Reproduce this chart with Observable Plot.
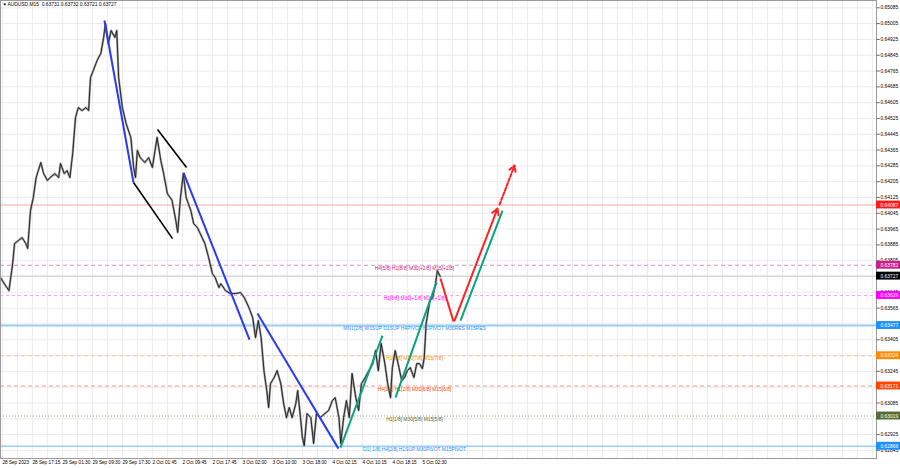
<!DOCTYPE html>
<html><head><meta charset="utf-8">
<script src="https://cdn.jsdelivr.net/npm/d3@7"></script>
<script src="https://cdn.jsdelivr.net/npm/@observablehq/plot@0.6"></script>
<style>html,body{margin:0;padding:0;background:#fff;} svg{display:block;}</style>
</head><body><div id="chart"></div>
<script>
// ---- data ----
const titleText = "AUDUSD,M15  0.63731 0.63732 0.63721 0.63727";
const bars = [0,4,9,13,15,19,23,27,29,32,
35,38,43,46,50,53,58,62,64,68,
71,74,77,80,83,87,91,94,96,99,
103,107,110,112,115,118,122,124,126,130,
134,139,142,144,146,149,154,158,162,167,
171,174,178,183,187,189,192,195,198,203,
206,210,213,218,222,226,229,233,235,240,
245,251,256,260,265,269,272,275,278,281,
284,286,288,292,295,299,302,305,308,311,
315,317,320,322,324,327,331,334,337,341,
346,350,354,357,361,363,366,369,372,375,
379,382,385,389,393,397,400,403,406,410,
413,416,418,421,425,428,431,434,437,441,
444,447,450,452,454,458,461,464,466,469];
const closes = [0.63720,0.63689,0.63654,0.63791,0.63892,0.63907,0.63922,0.63892,0.63867,0.64059,
0.64125,0.64226,0.64302,0.64246,0.64211,0.64226,0.64246,0.64226,0.64297,0.64246,
0.64261,0.64226,0.64348,0.64530,0.64580,0.64565,0.64580,0.64565,0.64732,0.64768,
0.64818,0.64854,0.64935,0.65006,0.64904,0.64970,0.64935,0.64970,0.64732,0.64580,
0.64499,0.64429,0.64277,0.64226,0.64363,0.64327,0.64302,0.64327,0.64277,0.64429,
0.64312,0.64246,0.64145,0.64110,0.64008,0.63948,0.64125,0.64246,0.64125,0.64059,
0.63993,0.63973,0.63943,0.63892,0.63821,0.63740,0.63720,0.63669,0.63689,0.63654,
0.63639,0.63639,0.63644,0.63619,0.63568,0.63517,0.63416,0.63502,0.63416,0.63249,
0.63148,0.63062,0.63183,0.63214,0.63249,0.63183,0.63082,0.63011,0.63062,0.63011,
0.63082,0.63148,0.63011,0.62910,0.62869,0.63031,0.63011,0.62880,0.63031,0.63011,
0.63031,0.63047,0.63097,0.63112,0.63011,0.62880,0.63011,0.63097,0.63011,0.63234,
0.63112,0.63047,0.63183,0.63214,0.63249,0.63284,0.63350,0.63249,0.63386,0.63284,
0.63183,0.63112,0.63264,0.63350,0.63264,0.63198,0.63214,0.63249,0.63264,0.63214,
0.63284,0.63284,0.63259,0.63315,0.63487,0.63603,0.63619,0.63689,0.63755,0.63725];

const axisPrices = [0.65085,0.65005,0.64925,0.64845,0.64765,0.64685,0.64605,0.64525,0.64445,0.64365,
0.64285,0.64205,0.64125,0.64045,0.63965,0.63885,0.63805,0.63725,0.63645,0.63565,
0.63485,0.63405,0.63325,0.63245,0.63165,0.63085,0.63005,0.62925,0.62845];
const dateLabels = ["28 Sep 2023","28 Sep 17:15","29 Sep 01:30","29 Sep 09:30","29 Sep 17:30",
"2 Oct 01:45","2 Oct 09:45","2 Oct 17:45","3 Oct 02:00","3 Oct 10:00","3 Oct 18:00",
"4 Oct 02:15","4 Oct 10:15","4 Oct 18:15","5 Oct 02:30"];
const dateBars = [2,34,66,98,130,162,194,226,258,290,322,354,386,418,450];
const gridBars = d3.range(2, 934, 16);

const levelPrices = [0.64087,0.63782,0.63727,0.63629,0.63477,0.63324,0.63171,0.63019,0.62866];
const levelTexts = ["","H4[5/8] H1[8/8] M30[+2/8] M15[+2/8]","","H1[6/8] M30[+1/8] M15[+1/8]",
"MN1[2/8] W1SUP D1SUP H4PIVOT H1PIVOT M30RES M15RES","H1[3/8] M30[7/8] M15[7/8]",
"H4[3/8] H1[2/8] M30[6/8] M15[6/8]","H1[1/8] M30[5/8] M15[5/8]","D1[-1/8] H4[2/8] H1SUP M30PIVOT M15PIVOT"];
const levelTextBar = 441.6;

// trend lines: [bar1, price1, bar2, price2]
const blueLines = [[110.9,0.65021,141.9,0.64201],[195.2,0.64251,265.6,0.63406],[274.1,0.63538,360.5,0.62854]];
const blackLines = [[167.5,0.64469,198.4,0.64277],[141.9,0.64201,183.5,0.63917]];
const greenLines = [[362.7,0.62859,407.5,0.63426],[421.3,0.63112,465.1,0.63695],[490.7,0.63502,535.5,0.64059]];
const redLines = [[469.3,0.63715,483.2,0.63497]];
const redArrows = [[484.3,0.63502,530.1,0.64069]];
const redDashedArrows = [[532.3,0.64089,548.3,0.64287]];

// ---- styles ----
const levelStyles = [
  {line:"#f5a8a0", dash:null, w:1, box:"#ff1a1a", txt:"#ff1a1a"},
  {line:"#e78cc0", dash:"4,3", w:1, box:"#c8208a", txt:"#c8208a"},
  {line:"#c9c9c9", dash:null, w:1, box:"#000000", txt:"#000"},
  {line:"#f7a0f7", dash:"3,3", w:1, box:"#ff00ff", txt:"#ff00ff"},
  {line:"#9ccdf6", dash:null, w:2, box:"#1e90ff", txt:"#1e90ff"},
  {line:"#f8c590", dash:"4,3", w:1, box:"#ff8c00", txt:"#ff8c00"},
  {line:"#f7a08c", dash:"4,3", w:1, box:"#ff4500", txt:"#ff4500"},
  {line:"#9a9a6a", dash:"1,2", w:1, box:"#556b2f", txt:"#556b2f"},
  {line:"#9ccdf6", dash:null, w:1.5, box:"#1e90ff", txt:"#1e90ff"}
];
const FONT = "Liberation Sans, Arial, sans-serif";
const FS = 4.9;
const axisX = 934.4, boxX2 = 961;

const price = bars.map((b,i)=>({b, c: closes[i]}));
const lk = (arr, o) => Plot.link(arr, {x1:d=>d[0], y1:d=>d[1], x2:d=>d[2], y2:d=>d[3], ...o});
const ar = (arr, o) => Plot.arrow(arr, {x1:d=>d[0], y1:d=>d[1], x2:d=>d[2], y2:d=>d[3], ...o});
// axis labels hidden behind a price tag are not drawn (as in the terminal)
const axisLabelPrices = axisPrices.filter(p => levelPrices.every(l => Math.abs(l - p) > 0.00015));

const levelMarks = levelPrices.flatMap((p,i)=>{
  const s = levelStyles[i];
  const m = [Plot.ruleY([p], {stroke:s.line, strokeWidth:s.w, strokeDasharray:s.dash || undefined})];
  if (levelTexts[i]) m.push(Plot.text([levelTexts[i]], {x:()=>levelTextBar, y:()=>p, text:d=>d, dy:3, fill:s.txt, fontSize:FS, fontFamily:FONT}));
  return m;
});
const tagMarks = levelPrices.flatMap((p,i)=>{
  const s = levelStyles[i];
  return [
    Plot.rect([p], {x1:()=>axisX, x2:()=>boxX2, y1:d=>d-0.0002, y2:d=>d+0.0002, fill:s.box}),
    Plot.text([p], {x:()=>axisX, y:d=>d, text:d=>d.toFixed(5), dx:4, textAnchor:"start", fill:"#fff", fontSize:FS, fontFamily:FONT})
  ];
});

const chart = Plot.plot({
  width: 900, height: 468,
  marginLeft: 0, marginRight: 24, marginTop: 0, marginBottom: 10,
  x: {domain:[0, axisX], axis:null},
  y: {domain:[0.62804, 0.65122], axis:null},
  style: {background:"#fff", fontFamily: FONT, overflow:"visible"},
  marks: [
    Plot.ruleY(axisPrices, {stroke:"#ebebeb", strokeWidth:1}),
    Plot.ruleX(gridBars, {stroke:"#ebebeb", strokeWidth:1}),
    ...levelMarks,
    Plot.line(price, {x:"b", y:"c", stroke:"#a0a0a0", strokeWidth:2.2}),
    Plot.line(price, {x:"b", y:"c", stroke:"#1a1a1a", strokeWidth:0.9}),
    lk(blueLines, {stroke:"#2a3cf2", strokeWidth:2}),
    lk(blackLines, {stroke:"#000", strokeWidth:1.6}),
    lk(greenLines, {stroke:"#0aa37f", strokeWidth:2}),
    lk(redLines, {stroke:"#ff2222", strokeWidth:2}),
    ar(redArrows, {stroke:"#ff2222", strokeWidth:2, headLength:5}),
    ar(redDashedArrows, {stroke:"#ff2222", strokeWidth:2, headLength:5, strokeDasharray:"3,2"}),
    Plot.frame({stroke:"#9a9a9a"}),
    Plot.link(axisPrices, {x1:()=>axisX, x2:()=>axisX+3.5, y1:d=>d, y2:d=>d, stroke:"#666"}),
    Plot.text(axisLabelPrices, {x:()=>axisX, y:d=>d, text:d=>d.toFixed(5), dx:4, textAnchor:"start", fill:"#000", fontSize:FS, fontFamily:FONT}),
    ...tagMarks,
    Plot.text(dateLabels, {x:(d,i)=>dateBars[i], frameAnchor:"bottom", dy:2, lineAnchor:"top", textAnchor:"start", fill:"#000", fontSize:4.7, fontFamily:FONT}),
    Plot.text(["▼"], {frameAnchor:"top-left", dx:2, dy:2, lineAnchor:"top", textAnchor:"start", fill:"#000", fontSize:4.5, fontFamily:FONT}),
    Plot.text([titleText], {frameAnchor:"top-left", dx:7, dy:2, lineAnchor:"top", textAnchor:"start", fill:"#000", fontSize:FS, fontFamily:FONT})
  ]
});
document.getElementById("chart").appendChild(chart);
</script>
</body></html>
